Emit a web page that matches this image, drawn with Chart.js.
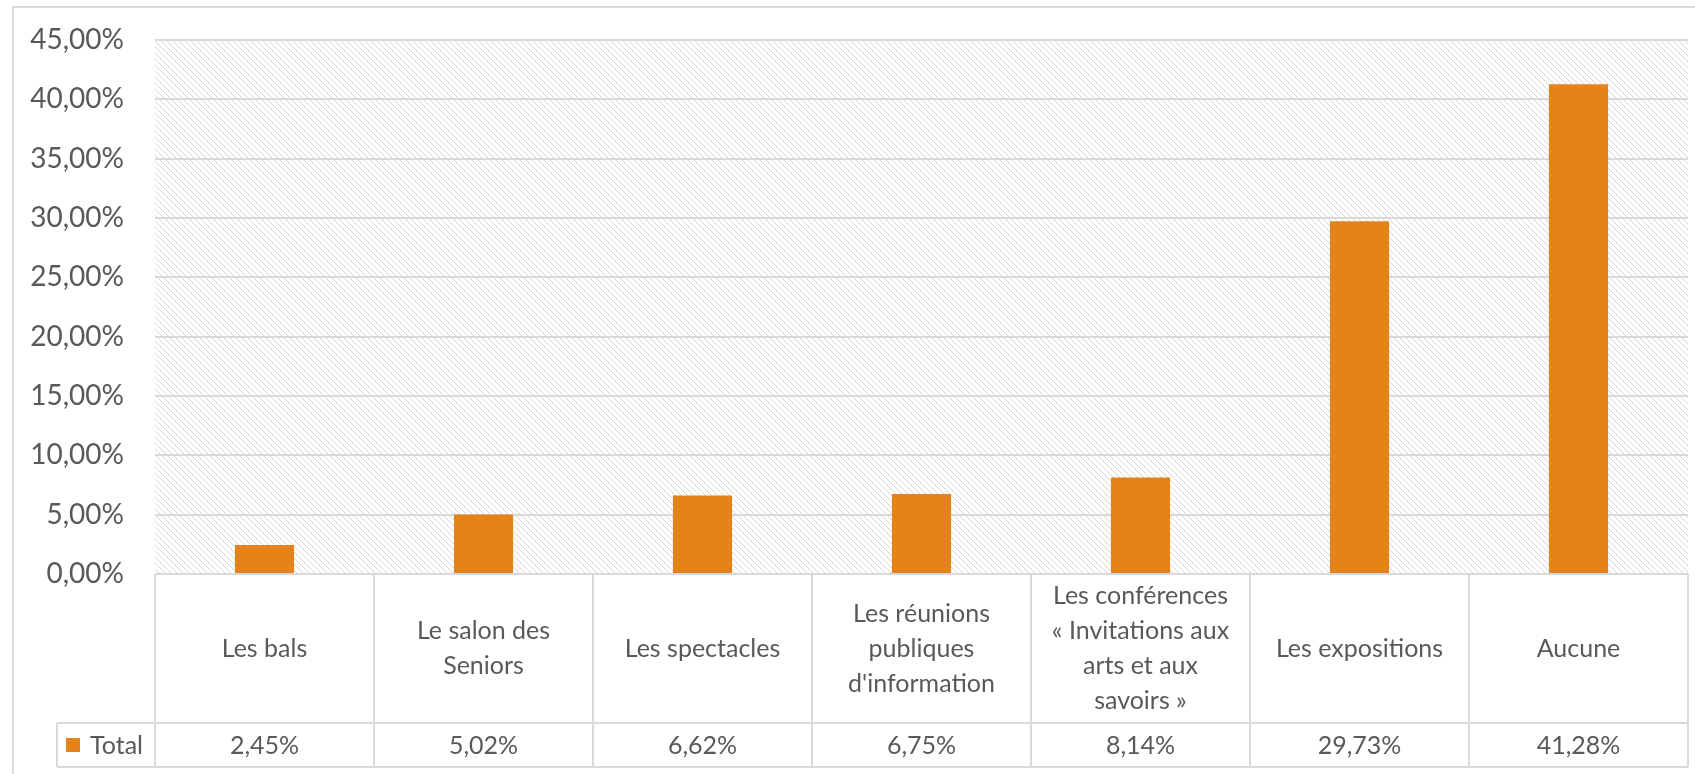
<!DOCTYPE html>
<html>
<head>
<meta charset="utf-8">
<script src="https://cdn.jsdelivr.net/npm/chart.js"></script>
<style>
  body { margin: 0; background: #FFFFFF; }
  #wrap { width: 1695px; height: 774px; }
</style>
</head>
<body>
<div id="wrap"><canvas id="myChart" width="1695" height="774"></canvas></div>
<script>
// Kategorien (Zeilenumbrüche wie im Original)
const categories = [
    ["Les bals"],
    ["Le salon des", "Seniors"],
    ["Les spectacles"],
    ["Les réunions", "publiques", "d'information"],
    ["Les conférences", "« Invitations aux", "arts et aux", "savoirs »"],
    ["Les expositions"],
    ["Aucune"],
];
const seriesName = "Total";
const values = [2.45, 5.02, 6.62, 6.75, 8.14, 29.73, 41.28];
const yTicks = [0, 5, 10, 15, 20, 25, 30, 35, 40, 45];

const orange = "#E3831A";
const textColor = "#595959";
const lineColor = "#D9D9D9";

function fmtPct(v) {
    return v.toFixed(2).replace(".", ",") + "%";
}

// Schraffur für Zeichenfläche
function makeHatch() {
    const c = document.createElement("canvas");
    c.width = 6;
    c.height = 6;
    const g = c.getContext("2d");
    g.fillStyle = "#FFFFFF";
    g.fillRect(0, 0, 6, 6);
    g.fillStyle = "#D4D4D4";
    for (let i = 0; i < 6; i++) {
        g.fillRect(i, i, 1, 1);
    }
    return c;
}

const tablePlugin = {
    id: "dataTable",
    beforeDraw(chart) {
        const {ctx, chartArea, width, height} = chart;
        ctx.save();
        ctx.fillStyle = "#FFFFFF";
        ctx.fillRect(0, 0, width, height);
        // Rahmen
        ctx.strokeStyle = lineColor;
        ctx.lineWidth = 2;
        ctx.beginPath();
        ctx.moveTo(13, height);
        ctx.lineTo(13, 7);
        ctx.lineTo(width, 7);
        ctx.stroke();
        // Schraffur
        ctx.fillStyle = ctx.createPattern(makeHatch(), "repeat");
        ctx.fillRect(chartArea.left, chartArea.top, chartArea.right - chartArea.left, chartArea.bottom - chartArea.top);
        ctx.restore();
    },
    afterDraw(chart) {
        const {ctx, chartArea} = chart;
        const x = chart.scales.x;
        const top = chartArea.bottom;
        const catH = 149;
        const valH = 44;
        const mid = top + catH;
        const bottom = mid + valH;
        const legendLeft = 57;
        const colW = (chartArea.right - chartArea.left) / categories.length;

        ctx.save();
        ctx.strokeStyle = lineColor;
        ctx.lineWidth = 2;
        ctx.beginPath();
        ctx.moveTo(chartArea.left, top);
        ctx.lineTo(chartArea.right, top);
        ctx.moveTo(legendLeft, mid);
        ctx.lineTo(chartArea.right, mid);
        ctx.moveTo(legendLeft, bottom);
        ctx.lineTo(chartArea.right, bottom);
        ctx.moveTo(legendLeft, mid);
        ctx.lineTo(legendLeft, bottom);
        for (let i = 0; i <= categories.length; i++) {
            const px = i < categories.length ? x.getPixelForValue(i) - colW / 2 : x.getPixelForValue(i - 1) + colW / 2;
            ctx.moveTo(px, top);
            ctx.lineTo(px, bottom);
        }
        ctx.stroke();

        ctx.fillStyle = textColor;
        ctx.font = "25px Lato";
        ctx.textAlign = "center";
        ctx.textBaseline = "middle";
        const lh = 35;
        categories.forEach((lines, i) => {
            const cx = x.getPixelForValue(i);
            const cy = top + catH / 2 - (lines.length - 1) * lh / 2;
            lines.forEach((t, j) => ctx.fillText(t, cx, cy + j * lh));
            ctx.fillText(fmtPct(values[i]), cx, mid + valH / 2 + 1);
        });

        // Legende
        ctx.fillStyle = orange;
        ctx.fillRect(66, mid + valH / 2 - 7, 14, 14);
        ctx.fillStyle = textColor;
        ctx.textAlign = "left";
        ctx.fillText(seriesName, 90, mid + valH / 2 + 1);
        ctx.restore();
    }
};

const data = {
    labels: categories,
    datasets: [
        {
            label: seriesName,
            data: values,
            backgroundColor: orange,
            borderWidth: 0,
            barPercentage: 0.27,
            categoryPercentage: 1,
        }
    ],
};

const config = {
    type: "bar",
    data: data,
    plugins: [tablePlugin],
    options: {
        responsive: false,
        animation: false,
        layout: {
            padding: {top: 40, right: 7, bottom: 200, left: 0}
        },
        scales: {
            x: {
                display: false,
            },
            y: {
                min: 0,
                max: 45,
                afterFit(scale) {
                    scale.width = 155;
                    scale.paddingTop = 0;
                    scale.paddingBottom = 0;
                },
                afterBuildTicks(scale) {
                    scale.ticks = yTicks.map(v => ({value: v}));
                },
                border: {display: false},
                grid: {
                    color: lineColor,
                    lineWidth: 2,
                    drawTicks: false,
                },
                ticks: {
                    color: textColor,
                    padding: 31,
                    font: {family: "Lato", size: 28},
                    callback: (v) => fmtPct(v),
                },
            }
        },
        plugins: {
            legend: {display: false},
            tooltip: {enabled: false},
        },
        hover: {mode: null},
    }
};

const myChart = new Chart(document.getElementById("myChart"), config);
</script>
</body>
</html>
